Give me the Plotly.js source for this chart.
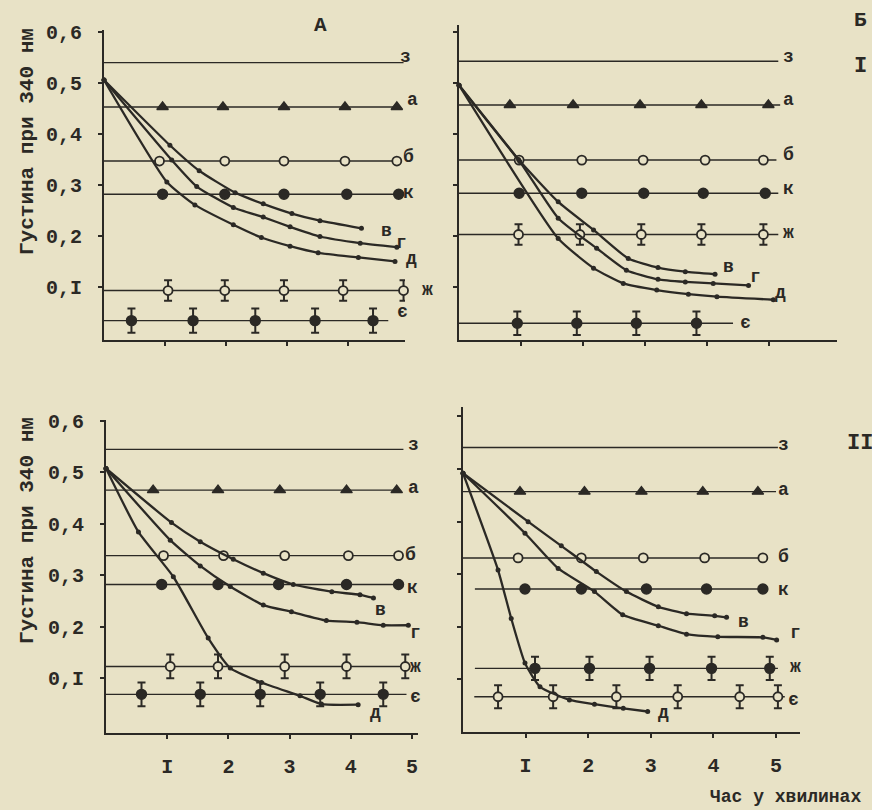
<!DOCTYPE html>
<html><head><meta charset="utf-8">
<script src="https://cdn.plot.ly/plotly-3.0.1.min.js"></script>
<style>html,body{margin:0;padding:0;background:#e8e2c6;}#chart{width:872px;height:810px;}</style>
</head><body><div id="chart"></div>
<script>
// ---------- data ----------
const levelNames = ['з','а','б','к','ж','є'];
const xTickVals = [1,2,3,4,5];
const xTickText = ['I','2','3','4','5'];
const yTickVals = [0.1,0.2,0.3,0.4,0.5,0.6];
const yTickText = ['0,I','0,2','0,3','0,4','0,5','0,6'];

// Panel A (top-left)
const levelsA = [0.540, 0.453, 0.347, 0.282, 0.093, 0.034];
const lineEndA = [4.91, 4.85, 4.80, 4.83, 4.91, 4.66];
const aXA = [0.96, 1.95, 2.95, 3.95, 4.80];
const bXA = [0.91, 1.98, 2.95, 3.95, 4.80];
const kXA = [0.96, 1.98, 2.95, 3.98, 4.83];
const zhXA = [1.05, 1.98, 2.95, 3.92, 4.91];
const yeXA = [0.45, 1.46, 2.48, 3.46, 4.41];
const errA = [0.020, 0.024];
const vXA = [0, 1.08, 1.56, 2.15, 2.61, 3.08, 3.54, 4.22];
const vYA = [0.506, 0.378, 0.328, 0.285, 0.263, 0.244, 0.230, 0.215];
const gXA = [0, 1.11, 1.52, 2.12, 2.61, 3.05, 3.54, 4.20, 4.80];
const gYA = [0.506, 0.349, 0.297, 0.256, 0.237, 0.218, 0.199, 0.186, 0.178];
const dXA = [0, 1.03, 1.49, 2.12, 2.58, 3.05, 3.51, 4.17, 4.77];
const dYA = [0.506, 0.306, 0.261, 0.222, 0.197, 0.180, 0.167, 0.158, 0.150];

// Panel B (top-right)
const levelsB = [0.543, 0.457, 0.349, 0.284, 0.203, 0.029];
const lineEndB = [5.15, 5.18, 5.12, 5.15, 5.15, 4.42];
const aXB = [0.82, 1.84, 2.92, 3.91, 4.99];
const bXB = [0.97, 1.98, 2.97, 3.97, 4.91];
const kXB = [0.97, 1.98, 2.98, 3.94, 4.94];
const zhXB = [0.96, 1.95, 2.94, 3.91, 4.91];
const yeXB = [0.94, 1.90, 2.86, 3.83];
const errB = [0.020, 0.023];
const vXB = [0, 0.96, 1.60, 2.17, 2.73, 3.21, 3.65, 4.13];
const vYB = [0.496, 0.350, 0.267, 0.212, 0.156, 0.138, 0.130, 0.125];
const gXB = [0, 0.98, 1.60, 2.22, 2.70, 3.21, 3.65, 4.10, 4.67];
const gYB = [0.496, 0.346, 0.235, 0.176, 0.133, 0.115, 0.110, 0.107, 0.103];
const dXB = [0, 1.60, 2.17, 2.65, 3.19, 3.70, 4.16, 5.07];
const dYB = [0.496, 0.195, 0.137, 0.107, 0.094, 0.086, 0.081, 0.075];

// Panel C (bottom-left)
const levelsC = [0.544, 0.465, 0.338, 0.282, 0.123, 0.069];
const lineEndC = [4.86, 4.80, 4.78, 4.83, 4.89, 4.91];
const aXC = [0.77, 1.83, 2.84, 3.93, 4.75];
const bXC = [0.94, 1.92, 2.92, 3.96, 4.78];
const kXC = [0.91, 1.83, 2.82, 3.93, 4.78];
const zhXC = [1.05, 1.83, 2.92, 3.93, 4.89];
const yeXC = [0.58, 1.54, 2.52, 3.50, 4.53];
const errC = [0.023, 0.023];
const vXC = [0, 1.07, 1.54, 2.08, 2.57, 3.06, 3.69, 4.15, 4.37];
const vYC = [0.507, 0.402, 0.365, 0.331, 0.304, 0.282, 0.268, 0.262, 0.256];
const gXC = [0, 1.05, 1.54, 2.03, 2.57, 3.03, 3.60, 4.10, 4.53, 4.94];
const gYC = [0.507, 0.368, 0.318, 0.278, 0.242, 0.229, 0.212, 0.209, 0.203, 0.203];
const dXC = [0, 0.53, 1.10, 1.67, 2.03, 2.54, 3.17, 3.52, 4.12];
const dYC = [0.507, 0.384, 0.297, 0.178, 0.120, 0.092, 0.066, 0.050, 0.049];

// Panel D (bottom-right)
const levelsD = [0.541, 0.457, 0.331, 0.272, 0.121, 0.067];
const lineStartD = [0, 0, 0, 0.19, 0.19, 0.18];
const lineEndD = [5.03, 5.00, 4.79, 4.79, 5.03, 5.14];
const aXD = [0.91, 1.94, 2.85, 3.83, 4.71];
const bXD = [0.88, 1.89, 2.88, 3.86, 4.79];
const kXD = [0.99, 1.89, 2.93, 3.89, 4.79];
const zhXD = [1.15, 2.02, 2.98, 3.97, 4.90];
const yeXD = [0.56, 1.44, 2.45, 3.43, 4.42, 5.03];
const errD = [0.022, 0.022];
const vXD = [0, 1.04, 1.57, 2.13, 2.61, 3.12, 3.57, 4.02, 4.21];
const vYD = [0.492, 0.400, 0.354, 0.305, 0.267, 0.238, 0.225, 0.221, 0.218];
const gXD = [0, 0.99, 1.52, 2.10, 2.55, 3.12, 3.57, 4.07, 4.79, 5.01];
const gYD = [0.492, 0.378, 0.311, 0.267, 0.223, 0.202, 0.186, 0.181, 0.180, 0.175];
const dXD = [0, 0.56, 0.77, 0.99, 1.23, 1.70, 2.10, 2.56, 2.95];
const dYD = [0.492, 0.308, 0.216, 0.131, 0.086, 0.061, 0.053, 0.045, 0.039];

// ---------- drawing ----------
const INK = '#2b2925';
const BG = '#e8e2c6';
const FONT = '"Liberation Mono", "DejaVu Sans Mono", monospace';
const W = 872, H = 810;
const traces = [];

function axRef(i){ return i === 1 ? ['x','y'] : ['x'+i, 'y'+i]; }
function hline(i, y, x0, x1){
  const [xa, ya] = axRef(i);
  traces.push({x:[x0,x1], y:[y,y], mode:'lines', line:{color:INK, width:1.4},
    xaxis:xa, yaxis:ya, showlegend:false, hoverinfo:'skip', cliponaxis:false});
}
function marks(i, xs, y, symbol, size, err){
  const [xa, ya] = axRef(i);
  const open = symbol === 'open';
  const t = {x:xs, y:xs.map(() => y), mode:'markers',
    marker:{symbol: open ? 'circle' : symbol, size:size, color: open ? BG : INK,
      line:{color:INK, width: open ? 1.8 : 1.4}},
    xaxis:xa, yaxis:ya, showlegend:false, cliponaxis:false};
  if (err) t.error_y = {type:'constant', value:err, color:INK, thickness:2, width:4};
  traces.push(t);
}
function curve(i, xs, ys){
  const [xa, ya] = axRef(i);
  traces.push({x:xs, y:ys, mode:'lines+markers', line:{color:INK, width:2.3, shape:'spline', smoothing:0.5},
    marker:{size:5, color:INK}, xaxis:xa, yaxis:ya, showlegend:false, cliponaxis:false});
}
function panel(i, levels, starts, ends, aX, bX, kX, zhX, yeX, err, zhFilled){
  levels.forEach((v, j) => hline(i, v, starts ? starts[j] : 0, ends[j]));
  marks(i, aX, levels[1], 'triangle-up', 10);
  marks(i, bX, levels[2], 'open', 9);
  marks(i, kX, levels[3], 'circle', 10);
  marks(i, zhX, levels[4], zhFilled ? 'circle' : 'open', zhFilled ? 10 : 9, err[0]);
  marks(i, yeX, levels[5], zhFilled ? 'open' : 'circle', zhFilled ? 9 : 10, err[1]);
}

panel(1, levelsA, null, lineEndA, aXA, bXA, kXA, zhXA, yeXA, errA, false);
curve(1, vXA, vYA); curve(1, gXA, gYA); curve(1, dXA, dYA);
panel(2, levelsB, null, lineEndB, aXB, bXB, kXB, zhXB, yeXB, errB, false);
curve(2, vXB, vYB); curve(2, gXB, gYB); curve(2, dXB, dYB);
panel(3, levelsC, null, lineEndC, aXC, bXC, kXC, zhXC, yeXC, errC, false);
curve(3, vXC, vYC); curve(3, gXC, gYC); curve(3, dXC, dYC);
panel(4, levelsD, lineStartD, lineEndD, aXD, bXD, kXD, zhXD, yeXD, errD, true);
curve(4, vXD, vYD); curve(4, gXD, gYD); curve(4, dXD, dYD);

const common = {showgrid:false, zeroline:false, showline:true, linecolor:INK, linewidth:2,
  ticks:'outside', ticklen:4, tickwidth:2, tickcolor:INK, fixedrange:true,
  tickfont:{family:FONT, size:20, color:INK, weight:700}};
function xax(px0, px1, max, anchor, labels){
  return Object.assign({}, common, {domain:[px0/W, px1/W], range:[0, max], anchor:anchor,
    tickvals:xTickVals, ticktext:xTickText, showticklabels:labels, ticklabelstandoff:10});
}
function yax(py0, py1, min, max, anchor, labels){
  return Object.assign({}, common, {domain:[1 - py1/H, 1 - py0/H], range:[min, max], anchor:anchor,
    tickvals:yTickVals, ticktext:yTickText, showticklabels:labels, ticklabelstandoff:12});
}

function P(px, py, text, size, extra){
  return Object.assign({xref:'paper', yref:'paper', x:px/W, y:1 - py/H, text:text, showarrow:false,
    xanchor:'center', yanchor:'middle', font:{family:FONT, size:size, color:INK, weight:700}}, extra || {});
}
const ann = [];
const labA = [[405,57],[412,100],[408,157],[408,193],[427,290],[402,312]];
const labB = [[788,57],[788,100],[788,155],[788,189],[788,233],[745,323]];
const labC = [[413,445],[413,488],[410,555],[412,588],[415,667],[415,697]];
const labD = [[783,445],[783,490],[783,557],[783,590],[795,667],[793,700]];
[labA, labB, labC, labD].forEach(lab => lab.forEach((p, j) => ann.push(P(p[0], p[1], levelNames[j], 18))));
const curveLab = [
  [[386,231],[401,243],[411,259]],
  [[728,267],[755,277],[780,293]],
  [[380,610],[415,633],[375,713]],
  [[743,622],[795,633],[663,713]]];
const curveNames = ['в','г','д'];
curveLab.forEach(lab => lab.forEach((p, j) => ann.push(P(p[0], p[1], curveNames[j], 18))));
ann.push(P(320, 25, 'А', 21));
ann.push(P(860, 20, 'Б', 21));
ann.push(P(860, 67, 'I', 22));
ann.push(P(860, 443, 'II', 22));
ann.push(P(785, 797, 'Час у хвилинах', 18));
ann.push(P(27, 142, 'Густина при 340 нм', 21, {textangle:-90}));
ann.push(P(27, 531, 'Густина при 340 нм', 21, {textangle:-90}));

const layout = {
  width:W, height:H, margin:{l:0, r:0, t:0, b:0},
  paper_bgcolor:BG, plot_bgcolor:'rgba(0,0,0,0)', showlegend:false,
  font:{family:FONT, color:INK},
  xaxis: xax(104, 405, 4.934, 'y', false),
  yaxis: yax(30, 340, -0.004, 0.604, 'x', true),
  xaxis2: xax(459, 837, 6.097, 'y2', false),
  yaxis2: yax(25, 340, -0.004, 0.614, 'x2', false),
  xaxis3: xax(106, 418, 5.098, 'y3', true),
  yaxis3: yax(420, 733, -0.006, 0.601, 'x3', true),
  xaxis4: xax(463, 800, 5.383, 'y4', true),
  yaxis4: yax(407, 732, 0, 0.618, 'x4', false),
  annotations: ann
};
Plotly.newPlot('chart', traces, layout, {staticPlot:true, displayModeBar:false});
</script></body></html>
